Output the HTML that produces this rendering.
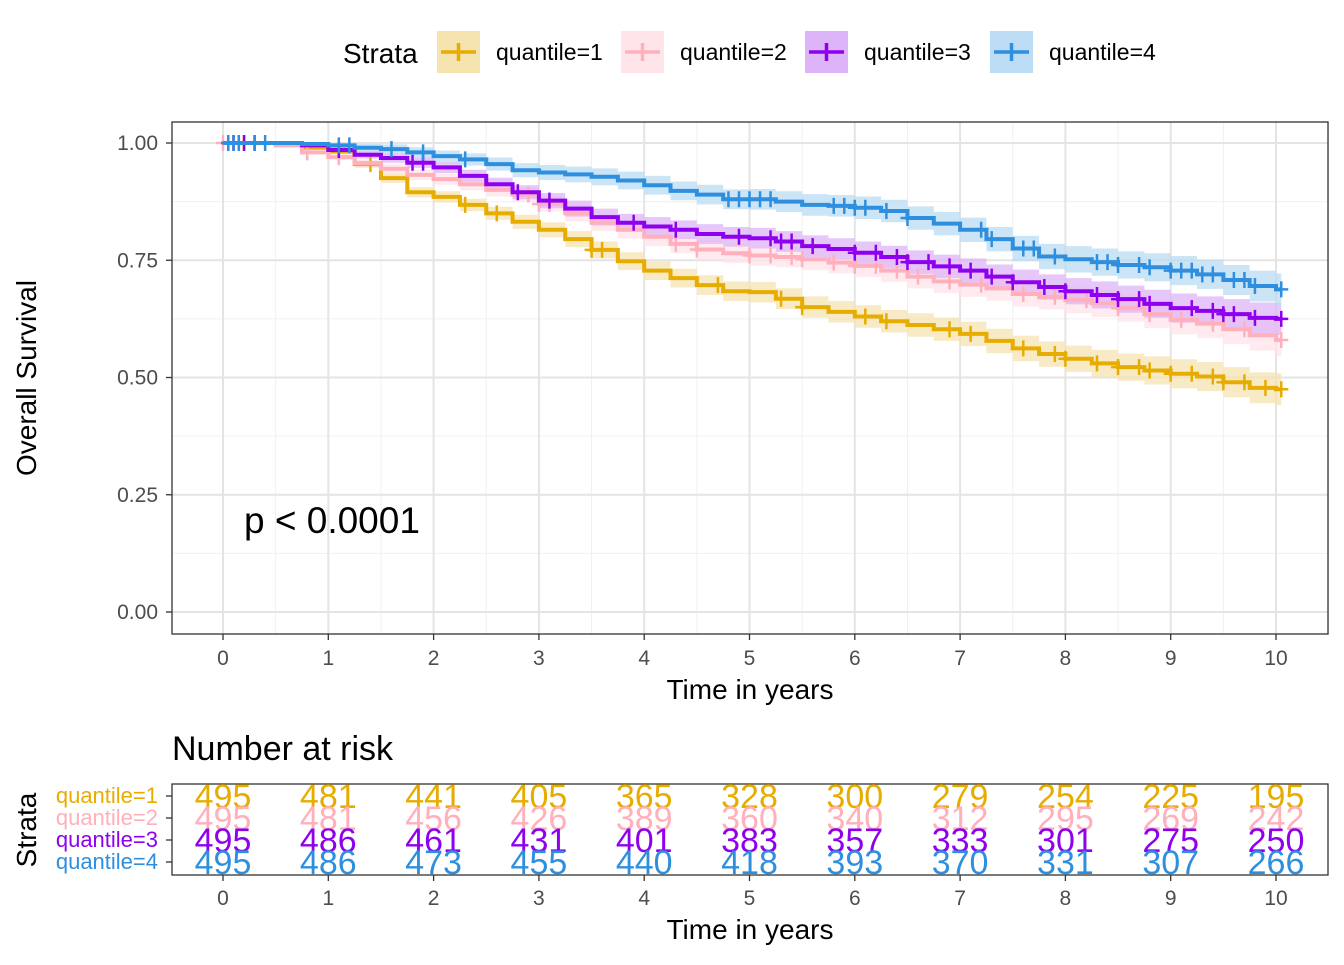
<!DOCTYPE html>
<html><head><meta charset="utf-8"><style>
body{margin:0;background:#fff}
svg{font-family:"Liberation Sans",Arial,sans-serif}
</style></head><body>
<svg id="c" width="1344" height="960" viewBox="0 0 1344 960" xmlns="http://www.w3.org/2000/svg"></svg>
<script>
const times=[0,0.25,0.5,0.75,1,1.25,1.5,1.75,2,2.25,2.5,2.75,3,3.25,3.5,3.75,4,4.25,4.5,4.75,5,5.25,5.5,5.75,6,6.25,6.5,6.75,7,7.25,7.5,7.75,8,8.25,8.5,8.75,9,9.25,9.5,9.75,10];
const surv1=[1,1,0.998,0.99,0.982,0.955,0.925,0.895,0.885,0.868,0.85,0.832,0.815,0.795,0.772,0.748,0.728,0.712,0.697,0.684,0.682,0.668,0.65,0.64,0.63,0.62,0.612,0.603,0.593,0.578,0.562,0.55,0.54,0.53,0.522,0.515,0.508,0.502,0.49,0.478,0.475];
const surv2=[1,1,0.995,0.98,0.97,0.957,0.945,0.932,0.923,0.912,0.9,0.89,0.87,0.85,0.83,0.815,0.8,0.785,0.773,0.765,0.76,0.757,0.752,0.745,0.738,0.728,0.715,0.705,0.698,0.69,0.678,0.672,0.665,0.658,0.648,0.635,0.623,0.615,0.603,0.59,0.58];
const surv3=[1,1,1,0.995,0.985,0.975,0.968,0.958,0.948,0.93,0.912,0.895,0.877,0.86,0.842,0.83,0.822,0.815,0.806,0.8,0.797,0.79,0.78,0.774,0.766,0.757,0.746,0.737,0.728,0.715,0.703,0.693,0.684,0.676,0.667,0.657,0.648,0.642,0.635,0.627,0.625];
const surv4=[1,1,1,0.998,0.995,0.99,0.987,0.98,0.972,0.965,0.955,0.942,0.937,0.933,0.928,0.92,0.91,0.898,0.89,0.88,0.88,0.875,0.868,0.866,0.862,0.855,0.84,0.828,0.815,0.795,0.775,0.758,0.752,0.746,0.74,0.735,0.728,0.72,0.708,0.695,0.688];
const ciHalf=[0,0,0.002,0.004,0.006,0.008,0.01,0.011,0.012,0.013,0.014,0.015,0.016,0.017,0.018,0.019,0.02,0.02,0.021,0.021,0.022,0.022,0.023,0.023,0.024,0.024,0.025,0.025,0.026,0.026,0.027,0.027,0.028,0.029,0.029,0.03,0.031,0.031,0.032,0.033,0.034];
const censor1=[0.05,0.1,0.15,0.2,1.1,1.4,2.3,2.6,3.5,3.6,4.7,5.3,5.5,6.1,6.3,6.9,7.1,7.6,7.9,8.0,8.3,8.5,8.7,8.8,9.0,9.2,9.4,9.5,9.7,9.9,10.05];
const censor2=[0.0,0.1,0.2,0.8,1.1,2.9,3.0,3.1,4.3,4.5,5.0,5.2,5.4,5.5,5.8,6.0,6.2,6.4,6.6,6.9,7.2,7.6,7.9,8.2,8.5,8.8,9.1,9.4,9.7,10.05];
const censor3=[0.05,0.1,0.2,0.3,1.1,1.8,1.9,2.8,3.1,3.9,4.3,4.9,5.2,5.3,5.4,5.6,6.0,6.2,6.4,6.5,6.7,6.9,7.1,7.3,7.5,7.8,8.0,8.3,8.5,8.7,8.8,9.2,9.4,9.5,9.6,9.8,10.05];
const censor4=[0.05,0.1,0.15,0.3,0.4,1.1,1.2,1.6,1.9,2.3,4.8,4.9,5.0,5.1,5.2,5.8,5.9,6.0,6.1,6.3,6.5,7.2,7.3,7.6,7.7,7.9,8.3,8.4,8.5,8.7,8.8,9.0,9.1,9.2,9.3,9.4,9.6,9.7,9.8,10.05];
const riskTimes=[0,1,2,3,4,5,6,7,8,9,10];
const risk1=[495,481,441,405,365,328,300,279,254,225,195];
const risk2=[495,481,456,426,389,360,340,312,295,269,242];
const risk3=[495,486,461,431,401,383,357,333,301,275,250];
const risk4=[495,486,473,455,440,418,393,370,331,307,266];
const yTicks=[0,0.25,0.5,0.75,1];
const labels=["quantile=1","quantile=2","quantile=3","quantile=4"];
const colors=["#E7AC00","#FFB0BC","#8F00EE","#2E8FDF"];
const fills=["#F5E3B0","#FFE4E9","#DDB4F7","#BBDCF3"];
const S=document.getElementById('c');
const NS="http://www.w3.org/2000/svg";
function el(t,a,p){const e=document.createElementNS(NS,t);for(const k in a)e.setAttribute(k,a[k]);(p||S).appendChild(e);return e;}
const X=t=>223+t*105.3, Y=s=>612-s*469;
const panel=el('rect',{x:172,y:122,width:1156,height:512,fill:'#fff',stroke:'none'});

for(let t=0.5;t<10.6;t+=1){el('line',{x1:X(t),x2:X(t),y1:122,y2:634,stroke:'#f0f0f0','stroke-width':1});}
for(let s=0.125;s<1.1;s+=0.25){el('line',{x1:172,x2:1328,y1:Y(s),y2:Y(s),stroke:'#f0f0f0','stroke-width':1});}
for(let t=0;t<=10;t++){el('line',{x1:X(t),x2:X(t),y1:122,y2:634,stroke:'#e4e4e4','stroke-width':2});}
yTicks.forEach(s=>el('line',{x1:172,x2:1328,y1:Y(s),y2:Y(s),stroke:'#e4e4e4','stroke-width':2}));
const series=[surv1,surv2,surv3,surv4], cens=[censor1,censor2,censor3,censor4];
function stepAt(sv,t){let v=sv[0];for(let i=0;i<times.length;i++){if(times[i]<=t)v=sv[i];}return v;}
series.forEach((sv,k)=>{
  let up='',dn='';
  for(let i=0;i<times.length;i++){const x0=X(times[i]),x1=X(i<times.length-1?times[i+1]:10.05);
    up+=(i?'L':'M')+x0+','+Y(Math.min(1,sv[i]+ciHalf[i]))+'L'+x1+','+Y(Math.min(1,sv[i]+ciHalf[i]));
    dn=('L'+x1+','+Y(sv[i]-ciHalf[i])+'L'+x0+','+Y(sv[i]-ciHalf[i]))+dn;}
  const b=el('path',{d:up+dn+'Z',fill:fills[k],opacity:0.75});
  
});
series.forEach((sv,k)=>{
  let d='';
  for(let i=0;i<times.length;i++){const x0=X(times[i]),x1=X(i<times.length-1?times[i+1]:10.05);
    d+=(i?'L':'M')+x0+','+Y(sv[i])+'L'+x1+','+Y(sv[i]);}
  const p=el('path',{d:d,fill:'none',stroke:colors[k],'stroke-width':4});
  
  cens[k].forEach(t=>{const x=X(t),y=Y(stepAt(sv,t));
    const m=el('path',{d:`M${x-7},${y}H${x+7}M${x},${y-8}V${y+8}`,stroke:colors[k],'stroke-width':2.5});
    });
});
el('rect',{x:172,y:122,width:1156,height:512,fill:'none',stroke:'#333','stroke-width':1.3});
yTicks.forEach(s=>{el('line',{x1:166,x2:172,y1:Y(s),y2:Y(s),stroke:'#333','stroke-width':1.3});
  const t=el('text',{x:158,y:Y(s)+7,'text-anchor':'end','font-size':21,fill:'#4d4d4d'});t.textContent=s.toFixed(2);
  });
for(let t=0;t<=10;t++){el('line',{x1:X(t),x2:X(t),y1:634,y2:640,stroke:'#333','stroke-width':1.3});
  const tx=el('text',{x:X(t),y:665,'text-anchor':'middle','font-size':21,fill:'#4d4d4d'});tx.textContent=t;
  }
let tt=el('text',{x:750,y:699,'text-anchor':'middle','font-size':28});tt.textContent='Time in years';

tt=el('text',{x:0,y:0,'text-anchor':'middle','font-size':28,transform:'translate(36,378) rotate(-90)'});tt.textContent='Overall Survival';

tt=el('text',{x:244,y:533,'font-size':37});tt.textContent='p < 0.0001';

tt=el('text',{x:343,y:63,'font-size':28});tt.textContent='Strata';

const lx=[437,621,805,990];
labels.forEach((l,k)=>{const g=el('g',{});
  el('rect',{x:lx[k],y:31,width:43,height:42,fill:fills[k]},g);
  el('path',{d:`M${lx[k]+4},52H${lx[k]+39}M${lx[k]+21.5},43V61`,stroke:colors[k],'stroke-width':3.5},g);
  const t=el('text',{x:lx[k]+59,y:60,'font-size':23},g);t.textContent=l;});
tt=el('text',{x:172,y:760,'font-size':34});tt.textContent='Number at risk';

el('rect',{x:172,y:784,width:1156,height:91,fill:'none',stroke:'#333','stroke-width':1.3});
const rows=[risk1,risk2,risk3,risk4], ry=[796,818,840,862];
rows.forEach((r,k)=>{
  el('line',{x1:166,x2:172,y1:ry[k],y2:ry[k],stroke:'#333','stroke-width':1.3});
  const lab=el('text',{x:158,y:ry[k]+7,'text-anchor':'end','font-size':22,fill:colors[k]});lab.textContent=labels[k];
  
  r.forEach((v,i)=>{const t=el('text',{x:X(riskTimes[i]),y:ry[k]+12,'text-anchor':'middle','font-size':34,fill:colors[k]});t.textContent=v;
    });
});
for(let t=0;t<=10;t++){el('line',{x1:X(t),x2:X(t),y1:875,y2:881,stroke:'#333','stroke-width':1.3});
  const tx=el('text',{x:X(t),y:905,'text-anchor':'middle','font-size':21,fill:'#4d4d4d'});tx.textContent=t;
  }
tt=el('text',{x:750,y:939,'text-anchor':'middle','font-size':28});tt.textContent='Time in years';

tt=el('text',{x:0,y:0,'text-anchor':'middle','font-size':28,transform:'translate(36,830) rotate(-90)'});tt.textContent='Strata';

</script>
</body></html>
